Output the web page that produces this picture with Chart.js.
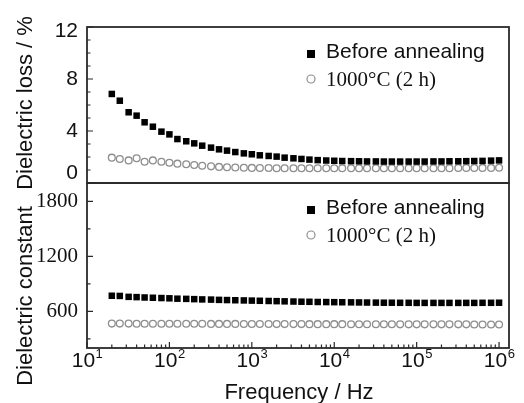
<!DOCTYPE html>
<html>
<head>
<meta charset="utf-8">
<script src="https://cdn.jsdelivr.net/npm/chart.js@4.4.1/dist/chart.umd.min.js"></script>
<style>
    body { margin: 0; background: #fff; }
    #wrap { position: relative; width: 524px; height: 403px; }
    canvas { position: absolute; left: 0; top: 0; }
</style>
</head>
<body>
<div id="wrap">
    <canvas id="lossChart" width="524" height="403"></canvas>
    <canvas id="constChart" width="524" height="403"></canvas>
</div>
<script>
// measurement frequencies (Hz)
const freqHz = [
    20, 25, 32, 40, 50, 63, 80,
    100, 125, 160, 200, 250, 320, 400, 500, 630, 800,
    1000, 1250, 1600, 2000, 2500, 3200, 4000, 5000, 6300, 8000,
    10000, 12500, 16000, 20000, 25000, 32000, 40000, 50000, 63000, 80000,
    100000, 125000, 160000, 200000, 250000, 320000, 400000, 500000, 630000, 800000,
    1000000
];

// dielectric loss (%)
const lossBefore = [
    6.85, 6.33, 5.44, 5.18, 4.67, 4.33, 3.95, 3.74, 3.38, 3.21,
    3.05, 2.87, 2.72, 2.59, 2.49, 2.38, 2.28, 2.21, 2.13, 2.08,
    2.03, 1.95, 1.90, 1.85, 1.80, 1.76, 1.73, 1.71, 1.69, 1.68,
    1.67, 1.66, 1.66, 1.65, 1.65, 1.65, 1.65, 1.65, 1.65, 1.66,
    1.66, 1.67, 1.67, 1.68, 1.69, 1.70, 1.72, 1.74
];
const lossAnnealed = [
    1.95, 1.85, 1.74, 1.90, 1.64, 1.74, 1.64, 1.56, 1.49, 1.44,
    1.38, 1.33, 1.28, 1.24, 1.21, 1.19, 1.17, 1.16, 1.15, 1.15,
    1.14, 1.14, 1.14, 1.13, 1.13, 1.13, 1.13, 1.13, 1.13, 1.13,
    1.13, 1.13, 1.13, 1.13, 1.13, 1.13, 1.13, 1.13, 1.14, 1.14,
    1.14, 1.14, 1.15, 1.15, 1.15, 1.16, 1.16, 1.17
];

// dielectric constant
const constBefore = [
    770, 768, 758, 755, 751, 748, 745, 742, 738, 736,
    733, 730, 728, 725, 723, 721, 719, 717, 715, 713,
    711, 709, 707, 705, 704, 702, 701, 700, 699, 698,
    697, 696, 695, 694, 694, 693, 693, 692, 692, 692,
    692, 692, 692, 692, 692, 693, 693, 694
];
const constAnnealed = [
    466, 466, 466, 465, 465, 465, 465, 465, 464, 464,
    464, 464, 463, 463, 463, 463, 462, 462, 462, 462,
    461, 461, 461, 461, 460, 460, 460, 460, 460, 459,
    459, 459, 459, 459, 459, 458, 458, 458, 458, 458,
    458, 458, 458, 458, 457, 457, 457, 457
];

const seriesLabels = ['Before annealing', '1000°C (2 h)'];

// ticks
const lossMajor = [0, 4, 8, 12];
const lossMinor = [1, 2, 3, 5, 6, 7, 9, 10, 11];
const constMajor = [600, 1200, 1800];
const constMinor = [300, 900, 1500];
const decadeTicks = [10, 100, 1000, 10000, 100000, 1000000];
const decadeExp = ['1', '2', '3', '4', '5', '6'];

const SANS = '"Liberation Sans", Arial, sans-serif';
const SERIF = '"Liberation Serif", "Times New Roman", serif';
const INK = '#111';

function toPoints(ys) {
    return freqHz.map((f, i) => ({ x: f, y: ys[i] }));
}

// frame, inward ticks, labels, titles and legend
const panelPlugin = {
    id: 'panel',
    afterDraw(chart, args, opts) {
        const { ctx, chartArea: a, scales } = chart;
        ctx.save();

        ctx.strokeStyle = '#2a2a2a';
        ctx.lineWidth = 1.8;
        ctx.strokeRect(a.left, a.top, a.right - a.left, a.bottom - a.top);

        // y ticks (inside)
        ctx.lineWidth = 1.2;
        ctx.beginPath();
        opts.yMajor.forEach(v => {
            const y = scales.y.getPixelForValue(v);
            ctx.moveTo(a.left, y); ctx.lineTo(a.left + 6, y);
        });
        opts.yMinor.forEach(v => {
            const y = scales.y.getPixelForValue(v);
            ctx.moveTo(a.left, y); ctx.lineTo(a.left + 3.5, y);
        });
        ctx.stroke();

        // y labels, kept inside the panel height
        ctx.fillStyle = INK;
        ctx.font = '21px ' + opts.yFont;
        ctx.textAlign = 'right';
        ctx.textBaseline = 'middle';
        opts.yMajor.forEach(v => {
            let y = scales.y.getPixelForValue(v);
            y = Math.max(a.top + 4, Math.min(a.bottom - 10, y));
            ctx.fillText(String(v), a.left - 9, y);
        });

        // x axis only on the lower panel
        if (opts.xAxis) {
            ctx.beginPath();
            decadeTicks.forEach((d, i) => {
                const x = scales.x.getPixelForValue(d);
                ctx.moveTo(x, a.bottom); ctx.lineTo(x, a.bottom - 6);
                if (i === decadeTicks.length - 1) return;
                for (let m = 2; m < 10; m++) {
                    const xm = scales.x.getPixelForValue(d * m);
                    ctx.moveTo(xm, a.bottom); ctx.lineTo(xm, a.bottom - 3.5);
                }
            });
            ctx.stroke();

            ctx.textAlign = 'left';
            ctx.textBaseline = 'alphabetic';
            decadeTicks.forEach((d, i) => {
                const x = scales.x.getPixelForValue(d);
                ctx.font = '21px ' + SANS;
                const w1 = ctx.measureText('10').width;
                ctx.font = '13px ' + SANS;
                const w2 = ctx.measureText(decadeExp[i]).width;
                const x0 = x - (w1 + w2) / 2;
                ctx.font = '21px ' + SANS;
                ctx.fillText('10', x0, 367);
                ctx.font = '13px ' + SANS;
                ctx.fillText(decadeExp[i], x0 + w1 + 0.5, 358);
            });

            ctx.font = '22px ' + SANS;
            ctx.textAlign = 'center';
            ctx.fillText('Frequency / Hz', (a.left + a.right) / 2 + 1, 399);
        }

        // y title
        ctx.save();
        ctx.translate(32, opts.titleY);
        ctx.rotate(-Math.PI / 2);
        ctx.font = '22px ' + SANS;
        ctx.textAlign = 'center';
        ctx.textBaseline = 'alphabetic';
        ctx.fillText(opts.title, 0, 0);
        ctx.restore();

        // legend
        const mx = a.left + 224;
        const markY = [27, 52];
        const baseY = [31, 59];
        const fonts = [SANS, SERIF];
        chart.data.datasets.forEach((ds, i) => {
            const cy = a.top + markY[i];
            if (ds.pointStyle === 'rect') {
                ctx.fillStyle = '#000';
                ctx.fillRect(mx - 4, cy - 4, 8, 8);
            } else {
                ctx.beginPath();
                ctx.arc(mx, cy, 4, 0, Math.PI * 2);
                ctx.fillStyle = '#fff';
                ctx.fill();
                ctx.strokeStyle = ds.borderColor;
                ctx.lineWidth = 1.2;
                ctx.stroke();
            }
            ctx.fillStyle = INK;
            ctx.font = '21px ' + fonts[i];
            ctx.textAlign = 'left';
            ctx.textBaseline = 'alphabetic';
            ctx.fillText(ds.label, a.left + 239, a.top + baseY[i]);
        });

        ctx.restore();
    }
};

function makeDatasets(before, annealed) {
    return [
        {
            label: seriesLabels[0],
            data: toPoints(before),
            pointStyle: 'rect',
            pointRadius: 4.6,
            backgroundColor: '#000',
            borderColor: '#000',
            borderWidth: 0
        },
        {
            label: seriesLabels[1],
            data: toPoints(annealed),
            pointStyle: 'circle',
            pointRadius: 3.4,
            backgroundColor: '#fff',
            borderColor: '#8e8e8e',
            borderWidth: 1.3
        }
    ];
}

function createPanel(id, datasets, yMin, yMax, padding, panelOpts) {
    const ctx = document.getElementById(id).getContext('2d');
    return new Chart(ctx, {
        type: 'scatter',
        data: { datasets: datasets },
        options: {
            responsive: false,
            animation: false,
            devicePixelRatio: 1,
            events: [],
            layout: { padding: padding },
            scales: {
                x: { type: 'logarithmic', min: 10, max: 1.32e6, display: false },
                y: { min: yMin, max: yMax, display: false }
            },
            plugins: {
                legend: { display: false },
                tooltip: { enabled: false },
                panel: panelOpts
            }
        },
        plugins: [panelPlugin]
    });
}

// upper panel: dielectric loss
createPanel('lossChart', makeDatasets(lossBefore, lossAnnealed), 0, 12,
    { left: 87, right: 15, top: 27, bottom: 220 },
    { yMajor: lossMajor, yMinor: lossMinor, yFont: SANS, title: 'Dielectric loss / %', titleY: 103, xAxis: false });

// lower panel: dielectric constant
createPanel('constChart', makeDatasets(constBefore, constAnnealed), 200, 2000,
    { left: 87, right: 15, top: 183, bottom: 55 },
    { yMajor: constMajor, yMinor: constMinor, yFont: SERIF, title: 'Dielectric constant', titleY: 296, xAxis: true });
</script>
</body>
</html>
